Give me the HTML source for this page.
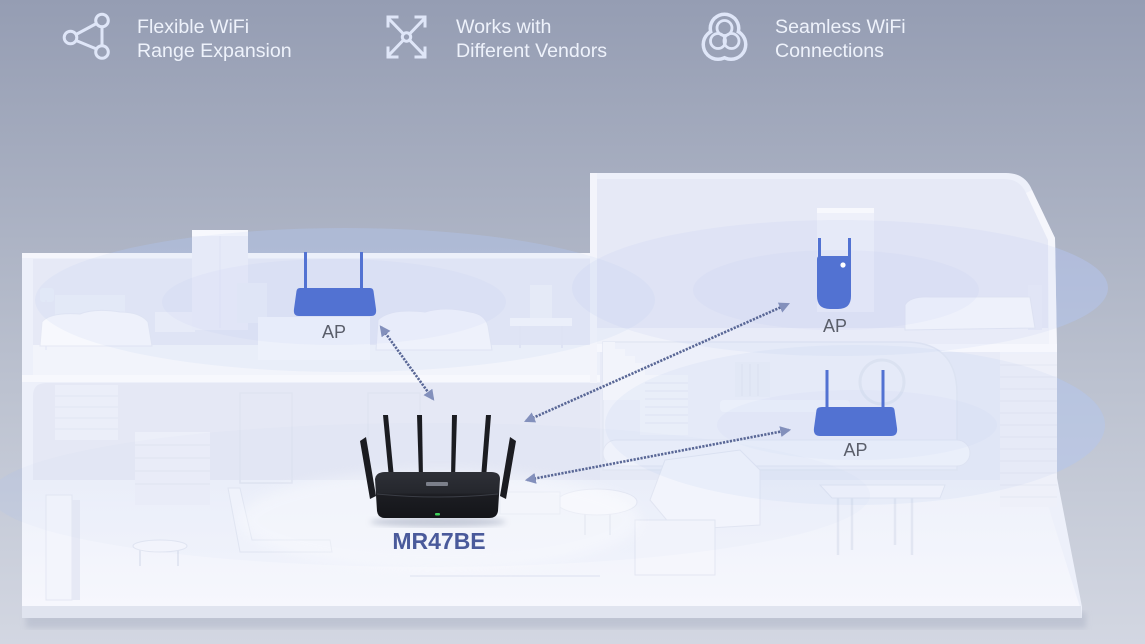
<!DOCTYPE html>
<html><head><meta charset="utf-8">
<style>
html,body{margin:0;padding:0;}
body{width:1145px;height:644px;overflow:hidden;position:relative;background:#b0b7c8;}
svg{position:absolute;left:0;top:0;display:block;}
text{font-family:"Liberation Sans",sans-serif;}
</style></head><body>
<svg width="1145" height="644" viewBox="0 0 1145 644" xmlns="http://www.w3.org/2000/svg">
<defs>
 <linearGradient id="bg" x1="0" y1="0" x2="0" y2="1">
  <stop offset="0" stop-color="#959db3"/>
  <stop offset="0.3" stop-color="#a8afc1"/>
  <stop offset="0.6" stop-color="#bcc2d0"/>
  <stop offset="1" stop-color="#d3d7e2"/>
 </linearGradient>
 <linearGradient id="rbody" x1="0" y1="0" x2="0" y2="1">
  <stop offset="0" stop-color="#2e3037"/>
  <stop offset="0.45" stop-color="#25272d"/>
  <stop offset="0.5" stop-color="#1c1d22"/>
  <stop offset="1" stop-color="#141519"/>
 </linearGradient>
 <linearGradient id="lowfloor" x1="0" y1="0" x2="0" y2="1">
  <stop offset="0" stop-color="#eef1fa"/>
  <stop offset="1" stop-color="#f6f7fd"/>
 </linearGradient>
 <filter id="b1"><feGaussianBlur stdDeviation="1"/></filter>
 <filter id="b3"><feGaussianBlur stdDeviation="3"/></filter>
 <filter id="b6"><feGaussianBlur stdDeviation="6"/></filter>
 <marker id="ah" viewBox="0 0 10 10" refX="8" refY="5" markerWidth="4.2" markerHeight="4.2" orient="auto-start-reverse" markerUnits="strokeWidth">
  <path d="M0,0 L10,5 L0,10 Z" fill="#8390bc"/>
 </marker>
 <mask id="m3">
  <rect x="690" y="0" width="80" height="70" fill="white"/>
  <circle cx="724.5" cy="28.5" r="12.5" fill="black"/>
  <circle cx="718" cy="44.5" r="13" fill="black"/>
  <circle cx="731" cy="44.5" r="13" fill="black"/>
 </mask>
</defs>

<rect width="1145" height="644" fill="url(#bg)"/>

<!-- WIFI ELLIPSES behind the house (visible on background) -->
<g fill="#b6c7f2">
 <ellipse cx="345" cy="300" rx="310" ry="72" opacity="0.3"/>
 <ellipse cx="840" cy="288" rx="268" ry="68" opacity="0.4"/>
 <ellipse cx="855" cy="425" rx="250" ry="80" opacity="0.4"/>
 <ellipse cx="430" cy="495" rx="440" ry="72" opacity="0.2"/>
</g>

<!-- slab shadow -->
<rect x="26" y="612" width="1060" height="16" fill="#b7bdcd" opacity="0.7" filter="url(#b3)"/>

<!-- house silhouette -->
<path d="M22,253 L590,253 L590,173 L1006,173 Q1025,173 1032,190 L1055,238 L1057,352 L1057,478 L1082,607 L1082,618 L22,618 Z" fill="#edf0fa"/>

<!-- LEFT BUILDING -->
<rect x="33" y="259" width="557" height="88" fill="#e6e9f6"/>
<rect x="22" y="253" width="570" height="5" fill="#f5f6fc"/>
<rect x="33" y="345" width="562" height="32" fill="#f2f4fb"/>
<rect x="22" y="375" width="578" height="7" fill="#f7f8fd"/>
<path d="M33,396 Q33,383 46,383 L600,383 L600,482 L33,482 Z" fill="#e5e8f5"/>
<polygon points="22,480 1040,480 1080,607 22,607" fill="url(#lowfloor)"/>
<polygon points="22,606 1081,606 1082,618 22,618" fill="#e0e4ef"/>

<!-- RIGHT BUILDING -->
<path d="M597,179 L1004,179 Q1020,179 1026,193 L1048,240 L1048,330 L597,330 Z" fill="#e6e9f6"/>
<polygon points="1032,190 1055,238 1057,352 1049,352 1048,240 1026,193" fill="#f5f6fc"/>
<rect x="590" y="173" width="7" height="210" fill="#f3f4fb"/>
<rect x="597" y="328" width="452" height="18" fill="#f0f2fa"/>
<rect x="597" y="344" width="460" height="8" fill="#f6f7fd"/>
<rect x="600" y="352" width="400" height="128" fill="#e8ebf7"/>
<path d="M603,470 L603,342 L905,342 Q957,342 957,394 L957,470 Z" fill="#edf0fa" stroke="#e3e7f3" stroke-width="1.5"/>
<!-- stairs mid -->
<polygon points="603,342 615,342 615,349 625,349 625,356 635,356 635,363 645,363 645,375 688,375 688,435 640,435 640,400 603,400" fill="#f2f4fb"/>
<g stroke="#e4e7f3" stroke-width="1">
 <line x1="645" y1="383" x2="688" y2="383"/><line x1="645" y1="391" x2="688" y2="391"/>
 <line x1="645" y1="399" x2="688" y2="399"/><line x1="645" y1="407" x2="688" y2="407"/>
 <line x1="645" y1="415" x2="688" y2="415"/><line x1="645" y1="423" x2="688" y2="423"/>
</g>
<!-- stair column right -->
<rect x="1000" y="354" width="57" height="153" fill="#eef0f9"/>
<g stroke="#e4e7f3" stroke-width="1">
 <line x1="1000" y1="365" x2="1057" y2="365"/><line x1="1000" y1="377" x2="1057" y2="377"/>
 <line x1="1000" y1="389" x2="1057" y2="389"/><line x1="1000" y1="401" x2="1057" y2="401"/>
 <line x1="1000" y1="413" x2="1057" y2="413"/><line x1="1000" y1="425" x2="1057" y2="425"/>
 <line x1="1000" y1="437" x2="1057" y2="437"/><line x1="1000" y1="449" x2="1057" y2="449"/>
 <line x1="1000" y1="461" x2="1057" y2="461"/><line x1="1000" y1="473" x2="1057" y2="473"/>
 <line x1="1000" y1="485" x2="1057" y2="485"/><line x1="1000" y1="497" x2="1057" y2="497"/>
</g>

<!-- FURNITURE upper-left -->
<rect x="40" y="288" width="14" height="14" rx="3" fill="#e9edf9"/>
<line x1="46" y1="300" x2="46" y2="350" stroke="#e6e9f6" stroke-width="1.5"/>
<rect x="55" y="295" width="70" height="25" fill="#ebeef9"/>
<path d="M42,322 Q50,312 80,314 Q95,308 120,312 Q140,312 148,322 L152,346 L40,346 Z" fill="#f7f8fd" stroke="#e5e8f4"/>
<rect x="155" y="312" width="40" height="20" fill="#eff1fa"/>
<rect x="192" y="230" width="56" height="100" fill="#eef0fa"/>
<rect x="192" y="230" width="56" height="6" fill="#f7f8fd"/>
<line x1="220" y1="236" x2="220" y2="328" stroke="#e5e8f5"/>
<rect x="237" y="283" width="30" height="40" fill="#eceff9"/>
<rect x="258" y="317" width="112" height="43" fill="#f6f7fd"/>
<path d="M378,320 Q390,308 425,312 Q445,306 470,312 Q485,314 488,326 L492,350 L376,350 Z" fill="#f7f8fd" stroke="#e5e8f4"/>
<rect x="530" y="285" width="22" height="38" fill="#edf0f9"/>
<rect x="510" y="318" width="62" height="8" fill="#f4f5fc"/>
<line x1="520" y1="326" x2="520" y2="348" stroke="#e5e8f5" stroke-width="2"/>
<line x1="562" y1="326" x2="562" y2="348" stroke="#e5e8f5" stroke-width="2"/>

<!-- FURNITURE lower-left -->
<rect x="55" y="385" width="63" height="55" fill="#ebeef9"/>
<g stroke="#e2e6f2"><line x1="55" y1="396" x2="118" y2="396"/><line x1="55" y1="407" x2="118" y2="407"/><line x1="55" y1="418" x2="118" y2="418"/><line x1="55" y1="429" x2="118" y2="429"/></g>
<rect x="135" y="432" width="75" height="73" fill="#eceff9"/>
<g stroke="#e2e6f2"><line x1="135" y1="445" x2="210" y2="445"/><line x1="135" y1="458" x2="210" y2="458"/><line x1="135" y1="471" x2="210" y2="471"/><line x1="135" y1="484" x2="210" y2="484"/></g>
<rect x="240" y="393" width="52" height="90" fill="none" stroke="#e0e4f1" stroke-width="1.5"/>
<rect x="368" y="393" width="52" height="90" fill="none" stroke="#e0e4f1" stroke-width="1.5"/>
<rect x="46" y="495" width="26" height="105" fill="#f3f5fc" stroke="#e4e7f3"/>
<rect x="72" y="500" width="8" height="100" fill="#e6e9f5"/>
<ellipse cx="160" cy="546" rx="27" ry="6" fill="#f6f7fd" stroke="#e2e6f2"/>
<line x1="140" y1="550" x2="140" y2="566" stroke="#e2e6f2" stroke-width="2"/>
<line x1="178" y1="550" x2="178" y2="566" stroke="#e2e6f2" stroke-width="2"/>
<polygon points="228,488 240,488 252,540 330,540 332,552 240,552" fill="#f3f5fc" stroke="#e2e6f2"/>

<!-- FURNITURE lower-right -->
<rect x="735" y="362" width="35" height="35" fill="#eaedf8"/>
<g stroke="#e0e4f1"><line x1="742" y1="364" x2="742" y2="396"/><line x1="750" y1="364" x2="750" y2="396"/><line x1="758" y1="364" x2="758" y2="396"/></g>
<circle cx="882" cy="382" r="22" fill="none" stroke="#e2e6f2" stroke-width="3"/>
<rect x="720" y="400" width="130" height="12" rx="4" fill="#f3f5fc"/>
<rect x="603" y="440" width="367" height="26" rx="13" fill="#f3f5fc" stroke="#e4e7f3"/>
<polygon points="665,460 740,450 760,470 760,525 675,530 650,500" fill="#f6f7fd" stroke="#e4e7f3"/>
<rect x="635" y="520" width="80" height="55" fill="#f5f6fc" stroke="#e3e6f2"/>
<ellipse cx="597" cy="502" rx="40" ry="13" fill="#f7f8fd" stroke="#e4e7f3"/>
<line x1="585" y1="514" x2="585" y2="535" stroke="#e2e6f2" stroke-width="2"/>
<line x1="610" y1="514" x2="610" y2="535" stroke="#e2e6f2" stroke-width="2"/>
<polygon points="820,485 945,485 940,498 832,498" fill="#f7f8fd" stroke="#e3e6f2"/>
<g stroke="#e2e6f2" stroke-width="2.5"><line x1="838" y1="498" x2="838" y2="555"/><line x1="852" y1="498" x2="852" y2="550"/><line x1="895" y1="498" x2="895" y2="545"/><line x1="912" y1="498" x2="912" y2="555"/></g>
<rect x="500" y="492" width="60" height="22" fill="#f2f4fb" stroke="#e3e6f2"/>
<line x1="410" y1="576" x2="600" y2="576" stroke="#e4e7f3" stroke-width="1.5"/>

<!-- FURNITURE upper-right -->
<rect x="817" y="208" width="57" height="104" fill="#eef0fa"/>
<rect x="817" y="208" width="57" height="5" fill="#f7f8fd"/>
<rect x="1028" y="285" width="14" height="45" fill="#e8ebf7"/>
<path d="M905,305 Q910,296 930,297 L1030,297 L1035,328 L905,330 Z" fill="#f7f8fd" stroke="#e4e7f3"/>

<!-- WIFI COVERAGE ELLIPSES over house (faint) -->
<g fill="#b0c2f0">
 <ellipse cx="345" cy="300" rx="310" ry="72" opacity="0.12"/>
 <ellipse cx="334" cy="302" rx="172" ry="43" opacity="0.09"/>
 <ellipse cx="840" cy="288" rx="268" ry="68" opacity="0.13"/>
 <ellipse cx="836" cy="290" rx="143" ry="40" opacity="0.09"/>
 <ellipse cx="855" cy="425" rx="250" ry="80" opacity="0.12"/>
 <ellipse cx="857" cy="425" rx="140" ry="35" opacity="0.08"/>
 <ellipse cx="430" cy="495" rx="440" ry="72" opacity="0.05"/>
</g>
<ellipse cx="440" cy="520" rx="200" ry="50" fill="#ffffff" opacity="0.35" filter="url(#b6)"/>

<!-- ARROWS -->
<g stroke="#596796" stroke-width="2.6" stroke-dasharray="2.2 1.3" fill="none" marker-start="url(#ah)" marker-end="url(#ah)">
 <line x1="381" y1="327" x2="433" y2="399"/>
 <line x1="526" y1="421" x2="788" y2="304"/>
 <line x1="527" y1="480" x2="789" y2="430"/>
</g>

<!-- AP upper-left -->
<g fill="#5272d2">
 <rect x="304" y="252" width="3" height="40"/>
 <rect x="360" y="252" width="3" height="40"/>
 <path d="M300,288 L370,288 Q373,288 373.5,291 L376,309 Q377,316 371,316 L299,316 Q293,316 294,309 L296.5,291 Q297,288 300,288 Z"/>
</g>
<text x="334" y="338" font-size="18" fill="#5a5e6a" text-anchor="middle">AP</text>

<!-- AP upper-right extender -->
<g fill="#5272d2">
 <rect x="818" y="238" width="3" height="24"/>
 <rect x="848" y="238" width="3" height="24"/>
 <path d="M820,256 L848,256 Q851,256 851,259 L851,296 Q851,309 838,309 L830,309 Q817,309 817,296 L817,259 Q817,256 820,256 Z"/>
</g>
<circle cx="843" cy="265" r="2.6" fill="#ffffff"/>
<text x="835" y="332" font-size="18" fill="#5a5e6a" text-anchor="middle">AP</text>

<!-- AP lower-right -->
<g fill="#5272d2">
 <rect x="825.5" y="370" width="3" height="40"/>
 <rect x="881.5" y="370" width="3" height="40"/>
 <path d="M822,407 L891,407 Q894,407 894.5,410 L897,428 Q898,436 891,436 L820,436 Q813,436 814,428 L816.5,410 Q817,407 822,407 Z"/>
</g>
<text x="855.5" y="456" font-size="18" fill="#5a5e6a" text-anchor="middle">AP</text>

<!-- ROUTER MR47BE -->
<ellipse cx="438" cy="522" rx="68" ry="5" fill="#9aa2b8" opacity="0.5" filter="url(#b3)"/>
<g fill="#1b1c21">
 <polygon points="360,441 366,437 376,496 370,499"/>
 <polygon points="510,437 516,441 506,499 500,496"/>
 <polygon points="383,415 388,415 394,478 389,478"/>
 <polygon points="417,415 422,415 423,478 419,478"/>
 <polygon points="452,415 457,415 455,478 451,478"/>
 <polygon points="486,415 491,415 486,478 481,478"/>
</g>
<path d="M375,479 Q376,472 385,472 L491,472 Q500,472 500,479 L498,511 Q497,518 489,518 L385,518 Q378,518 377,511 Z" fill="url(#rbody)"/>
<path d="M377,494 Q438,500 498,494" stroke="#3a3d45" stroke-width="1" fill="none"/>
<rect x="426" y="482" width="22" height="4" rx="1" fill="#7b7f8a"/>
<rect x="435" y="513" width="5" height="2.5" rx="1" fill="#3fd05a"/>
<text x="439" y="549" font-size="23" font-weight="bold" fill="#4a5a9b" text-anchor="middle">MR47BE</text>

<!-- HEADER -->
<g stroke="#dfe6f8" stroke-width="3" fill="none">
 <circle cx="70.5" cy="37.5" r="6.3"/>
 <circle cx="102" cy="20.5" r="6.3"/>
 <circle cx="102" cy="52" r="6.3"/>
 <line x1="76" y1="34.5" x2="96.5" y2="23.5"/>
 <line x1="76" y1="40.5" x2="96.5" y2="49"/>
 <line x1="102" y1="27" x2="102" y2="45.5"/>
</g>
<text font-size="19.6" fill="#eef2fb"><tspan x="137" y="33">Flexible WiFi</tspan><tspan x="137" y="57">Range Expansion</tspan></text>

<g stroke="#dfe6f8" stroke-width="3" fill="none" stroke-linecap="square">
 <circle cx="406.5" cy="37" r="4.2"/>
 <line x1="403.5" y1="34" x2="390" y2="20"/>
 <line x1="409.5" y1="34" x2="423" y2="20"/>
 <line x1="403.5" y1="40" x2="390" y2="54"/>
 <line x1="409.5" y1="40" x2="423" y2="54"/>
 <polyline points="388,26 388,17 397,17"/>
 <polyline points="416,17 425,17 425,26"/>
 <polyline points="388,48 388,57 397,57"/>
 <polyline points="416,57 425,57 425,48"/>
</g>
<text font-size="19.6" fill="#eef2fb"><tspan x="456" y="33">Works with</tspan><tspan x="456" y="57">Different Vendors</tspan></text>

<g mask="url(#m3)" fill="#dfe6f8">
 <circle cx="724.5" cy="28.5" r="16"/>
 <circle cx="718" cy="44.5" r="16.5"/>
 <circle cx="731" cy="44.5" r="16.5"/>
</g>
<g stroke="#dfe6f8" stroke-width="2.8" fill="none">
 <circle cx="724.5" cy="28" r="7.5"/>
 <circle cx="718" cy="41" r="7.5"/>
 <circle cx="731.5" cy="41" r="7.5"/>
</g>
<text font-size="19.6" fill="#eef2fb"><tspan x="775" y="33">Seamless WiFi</tspan><tspan x="775" y="57">Connections</tspan></text>
</svg>
</body></html>
